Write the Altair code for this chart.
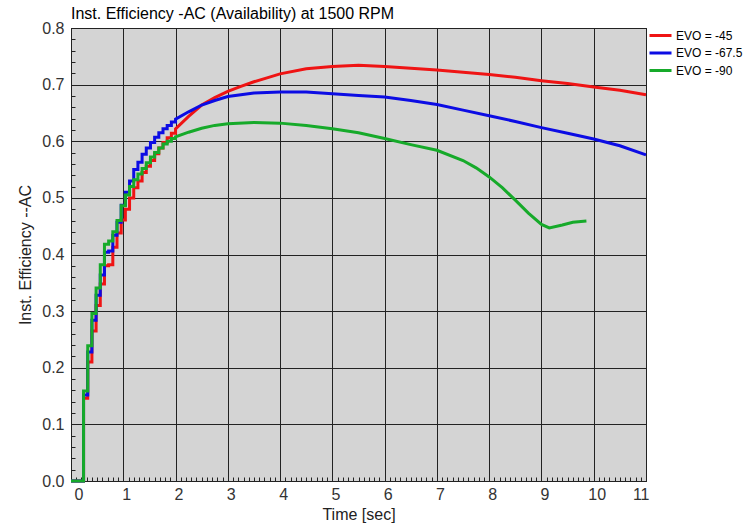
import altair as alt
import pandas as pd

# Series names and colours (legend order = draw order, last on top)
SERIES = ["EVO = -45", "EVO = -67.5", "EVO = -90"]
COLORS = ["#ef1414", "#0c0ce4", "#16aa2a"]

# Per-cycle (0.08 s) staircase during warm-up
STEP_T = [0.0, 0.24, 0.32, 0.40, 0.48, 0.56, 0.64, 0.72, 0.80, 0.88, 0.96,
          1.04, 1.12, 1.20, 1.28, 1.36, 1.44, 1.52, 1.60, 1.68, 1.76, 1.84,
          1.92, 2.00]
STEP_45 = [0.0, 0.146, 0.210, 0.265, 0.310, 0.348, 0.380, 0.382, 0.413, 0.438,
           0.461, 0.480, 0.500, 0.518, 0.530, 0.545, 0.556, 0.566, 0.578, 0.588,
           0.598, 0.606, 0.614, 0.622]
STEP_675 = [0.0, 0.152, 0.228, 0.284, 0.328, 0.364, 0.404, 0.406, 0.434, 0.457,
            0.487, 0.510, 0.530, 0.550, 0.563, 0.577, 0.588, 0.598, 0.607, 0.615,
            0.622, 0.628, 0.634, 0.639]
STEP_90 = [0.0, 0.159, 0.239, 0.296, 0.341, 0.382, 0.418, 0.424, 0.440, 0.460,
           0.486, 0.505, 0.520, 0.532, 0.542, 0.552, 0.562, 0.572, 0.580, 0.588,
           0.595, 0.600, 0.605, 0.608]

# Later part of each run
T_45 = [2.25, 2.5, 2.75, 3.0, 3.25, 3.5, 3.75, 4.0, 4.5, 5.0, 5.5, 6.0, 6.5,
        7.0, 7.5, 8.0, 8.5, 9.0, 9.5, 10.0, 10.5, 11.0]
V_45 = [0.644, 0.664, 0.677, 0.688, 0.697, 0.705, 0.712, 0.719, 0.728, 0.732,
        0.734, 0.732, 0.729, 0.726, 0.722, 0.718, 0.713, 0.707, 0.702, 0.696,
        0.690, 0.682]
T_675 = [2.25, 2.5, 2.75, 3.0, 3.5, 4.0, 4.5, 5.0, 5.5, 6.0, 6.5, 7.0, 7.5,
         8.0, 8.5, 9.0, 9.5, 10.0, 10.5, 11.0]
V_675 = [0.652, 0.664, 0.672, 0.679, 0.685, 0.687, 0.687, 0.684, 0.681, 0.678,
         0.672, 0.665, 0.655, 0.645, 0.635, 0.624, 0.614, 0.604, 0.592, 0.576]
T_90 = [2.25, 2.5, 2.75, 3.0, 3.5, 4.0, 4.5, 5.0, 5.5, 6.0, 6.5, 7.0, 7.5,
        7.75, 8.0, 8.25, 8.5, 8.75, 9.0, 9.15, 9.4, 9.6, 9.86]
V_90 = [0.616, 0.623, 0.628, 0.631, 0.633, 0.632, 0.628, 0.622, 0.615, 0.605,
        0.594, 0.584, 0.566, 0.553, 0.537, 0.518, 0.496, 0.473, 0.453, 0.447,
        0.452, 0.457, 0.459]

# Axis ticks
X_TICKS = list(range(0, 12))
Y_TICKS = [0.0, 0.1, 0.2, 0.3, 0.4, 0.5, 0.6, 0.7, 0.8]
X_MINOR = [round(k * 0.1, 2) for k in range(0, 111)]
Y_MINOR = [round(k * 0.02, 2) for k in range(0, 41)]


def series_rows(name, step_v, t_late, v_late):
    rows = []
    prev = None
    for t, v in zip(STEP_T, step_v):
        if prev is not None:
            rows.append((t, prev))
        rows.append((t, v))
        prev = v
    rows += list(zip(t_late, v_late))
    return [{"series": name, "i": i, "t": t, "v": v} for i, (t, v) in enumerate(rows)]


records = (series_rows(SERIES[0], STEP_45, T_45, V_45)
           + series_rows(SERIES[1], STEP_675, T_675, V_675)
           + series_rows(SERIES[2], STEP_90, T_90, V_90))
df = pd.DataFrame(records)

FONT = "Liberation Sans"
x_scale = alt.Scale(domain=[0, 11], nice=False, zero=False)
y_scale = alt.Scale(domain=[0, 0.8], nice=False, zero=False)

base = alt.Chart(df)

lines = base.mark_line(strokeWidth=3, interpolate="linear").encode(
    x=alt.X("t:Q", scale=x_scale,
            axis=alt.Axis(values=X_TICKS, title="Time [sec]", grid=True,
                          gridColor="#222222", gridOpacity=1, gridWidth=1,
                          ticks=False, domain=False, labelPadding=5,
                          labelOffset=3, titlePadding=4, format="d")),
    y=alt.Y("v:Q", scale=y_scale,
            axis=alt.Axis(values=Y_TICKS, title="Inst. Efficiency --AC",
                          grid=True, gridColor="#222222", gridOpacity=1,
                          gridWidth=1, ticks=False, domain=False,
                          labelPadding=7, titlePadding=8, format=".1f")),
    color=alt.Color("series:N",
                    scale=alt.Scale(domain=SERIES, range=COLORS),
                    legend=alt.Legend(title=None, orient="none", legendX=577,
                                      legendY=0, symbolType="stroke",
                                      symbolSize=484, symbolStrokeWidth=3,
                                      clipHeight=15, rowPadding=2.5,
                                      labelOffset=3, labelFont=FONT,
                                      labelFontSize=12, labelColor="black",
                                      padding=0)),
    order=alt.Order("i:Q"),
)

minor = base.mark_point(opacity=0).encode(
    x=alt.X("t:Q", scale=x_scale,
            axis=alt.Axis(orient="bottom", values=X_MINOR, labels=False,
                          title=None, grid=False, domain=False, tickSize=4,
                          offset=-4, tickColor="#222222")),
    y=alt.Y("v:Q", scale=y_scale,
            axis=alt.Axis(orient="left", values=Y_MINOR, labels=False,
                          title=None, grid=False, domain=False, tickSize=4,
                          offset=-4, tickColor="#222222")),
)

chart = (
    alt.layer(lines, minor)
    .resolve_axis(x="independent", y="independent")
    .properties(
        width=575,
        height=453,
        title=alt.Title("Inst. Efficiency -AC (Availability) at 1500 RPM",
                        anchor="start", frame="group", font=FONT, fontSize=16,
                        fontWeight="normal", baseline="alphabetic", offset=7,
                        dy=22, color="black"),
        padding={"left": 71, "top": 28, "right": 103, "bottom": 46},
        autosize=alt.AutoSizeParams(type="none"),
        background="white",
    )
    .configure_view(fill="#d4d4d4", stroke="black", strokeWidth=1)
    .configure_axis(labelFont=FONT, labelFontSize=16, labelColor="#333333",
                    titleFont=FONT, titleFontSize=16, titleFontWeight="normal",
                    titleColor="#222222")
)

chart.save("out.html", embed_options={"renderer": "svg", "actions": False})
